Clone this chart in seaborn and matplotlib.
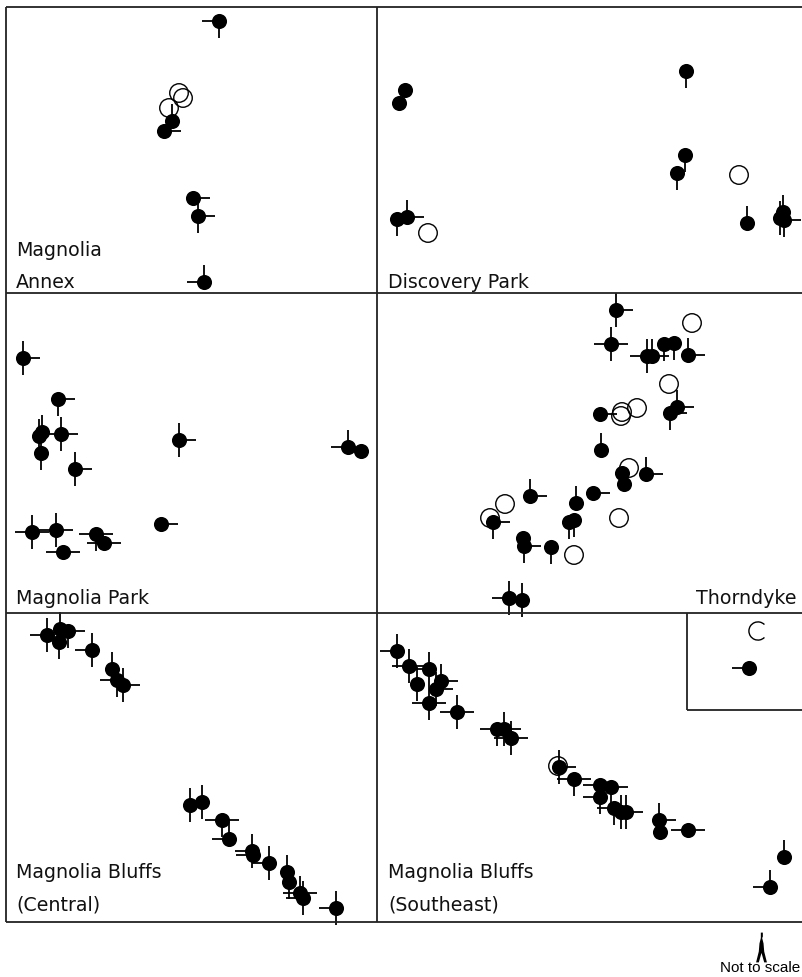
import matplotlib
matplotlib.use("Agg")
import matplotlib.pyplot as plt
import pandas as pd
import seaborn as sns
from matplotlib.path import Path

# map position in px, then which whiskers the symbol has (Up Down Left Right)
annex = [(219, 21, "LD"), (172, 121, "U"), (164, 131, "R"), (193, 198, "R"),
         (198, 216, "UDR"), (204, 282, "UL")]
annex_open = [(179, 93), (183, 98), (169, 108)]

discovery = [(686, 71, "D"), (405, 90, ""), (399, 103, ""), (685, 155, "D"),
             (677, 173, "D"), (747, 223, "U"), (780, 218, "UD"), (783, 212, "U"),
             (784, 220, "RD"), (397, 219, "D"), (407, 217, "UR")]
discovery_open = [(739, 175), (428, 233)]

park = [(23, 358, "UDR"), (58, 399, "DR"), (39, 436, "UD"), (42, 432, "U"),
        (61, 434, "UDLR"), (41, 453, "UD"), (75, 469, "UDR"), (179, 440, "UDR"),
        (348, 447, "UL"), (361, 451, ""), (161, 524, "R"), (32, 532, "UDLR"),
        (56, 530, "UDLR"), (63, 552, "LR"), (96, 534, "LRD"), (104, 543, "LR")]

thorndyke = [(616, 310, "UDR"), (611, 344, "UDLR"), (647, 356, "UDL"), (652, 356, "UR"),
             (664, 344, "D"), (674, 343, "D"), (688, 355, "UR"), (677, 407, "UR"),
             (670, 413, "DR"), (600, 414, "R"), (601, 450, "U"), (646, 474, "UR"),
             (622, 473, ""), (624, 484, ""), (593, 493, "R"), (530, 496, "UR"),
             (576, 503, "U"), (569, 522, "D"), (574, 520, "D"), (493, 522, "DR"),
             (523, 538, ""), (524, 546, "DR"), (551, 547, "D"), (509, 598, "UDL"),
             (522, 600, "UD"), (749, 668, "L")]
thorndyke_open = [(692, 323), (669, 384), (637, 408), (622, 412), (621, 416), (629, 468),
                  (505, 504), (490, 518), (619, 518), (574, 555)]
inset_open = [(758, 631)]

central = [(47, 635, "UDL"), (60, 629, "U"), (59, 642, "D"), (68, 631, "RD"),
           (92, 650, "UDL"), (112, 669, "U"), (117, 680, "DL"), (123, 685, "UDR"),
           (190, 805, "UD"), (202, 802, "UD"), (222, 820, "LRD"), (229, 839, "LU"),
           (252, 851, "LUD"), (253, 855, "L"), (269, 863, "LUD"), (287, 872, "U"),
           (289, 882, "D"), (300, 893, "LRU"), (303, 898, "LUD"), (336, 908, "LUD")]

southeast = [(397, 651, "UDL"), (409, 666, "UDLR"), (429, 669, "UDL"), (417, 684, "UD"),
             (441, 681, "UR"), (436, 689, "RDU"), (429, 703, "UDLR"), (457, 712, "UDLR"),
             (497, 729, "LD"), (504, 729, "RDU"), (511, 738, "UDLR"), (559, 767, "UDR"),
             (574, 779, "LRD"), (600, 785, "L"), (611, 787, "RD"), (600, 797, "LD"),
             (614, 808, "LD"), (621, 812, "UD"), (626, 812, "UDR"), (659, 820, "UR"),
             (660, 832, ""), (688, 830, "LR"), (784, 857, "U"), (770, 887, "UL")]
southeast_open = [(558, 766)]

labels = [("Magnolia", 16, 251), ("Annex", 16, 283), ("Discovery Park", 388, 283),
          ("Magnolia Park", 16, 598), ("Thorndyke", 696, 598),
          ("Magnolia Bluffs", 16, 873), ("(Central)", 16, 905),
          ("Magnolia Bluffs", 388, 873), ("(Southeast)", 388, 905)]

solid = pd.DataFrame(annex + discovery + park + thorndyke + central + southeast,
                     columns=["x", "y", "ticks"])
hollow = pd.DataFrame(annex_open + discovery_open + thorndyke_open + southeast_open,
                      columns=["x", "y"])
hollow_cut = pd.DataFrame(inset_open, columns=["x", "y"])

sns.set_style("white")
plt.rcParams["font.family"] = ["DejaVu Sans"]

fig = plt.figure(figsize=(8.03, 9.77), dpi=100)
ax = fig.add_axes([0, 0, 1, 1])

TICK = 17
for axis, sign, key in [("v", -1, "U"), ("v", 1, "D"), ("h", -1, "L"), ("h", 1, "R")]:
    sub = solid[solid["ticks"].str.contains(key)]
    if axis == "v":
        ax.vlines(sub["x"], sub["y"], sub["y"] + sign * TICK, color="black", lw=1.3)
    else:
        ax.hlines(sub["y"], sub["x"], sub["x"] + sign * TICK, color="black", lw=1.3)

sns.scatterplot(data=solid, x="x", y="y", ax=ax, color="black", s=118, marker="o",
                linewidth=0, legend=False, zorder=3)
sns.scatterplot(data=hollow, x="x", y="y", ax=ax, s=178, marker="o", facecolors="none",
                edgecolors="black", linewidth=1.0, legend=False, zorder=4)
# the circle in the inset is broken on its right side in the original
ax.scatter(hollow_cut["x"], hollow_cut["y"], marker=Path.arc(45, 315), s=178, facecolors="none",
           edgecolors="black", linewidth=1.0, zorder=4)

# panel frame and the inset box
ax.hlines([7, 293, 613, 922], 6, 803, color="#222222", lw=1.3)
ax.vlines([6, 377], 7, 922, color="#222222", lw=1.3)
ax.vlines(687, 613, 710, color="#222222", lw=1.3)
ax.hlines(710, 687, 803, color="#222222", lw=1.3)

for text, x, y in labels:
    ax.text(x, y, text, fontsize=13.7, color="#111111", ha="left", va="center")

# little walking figure over the scale note
walker = Path([(-0.5, 11), (1, 11), (1, 8), (0.5, 7), (1.5, 3), (2, -3), (4, -11), (2, -11), (0, -4),
               (-2, -11), (-4, -11), (-2, -3), (-1.5, 3), (-0.5, 7), (-0.5, 11)], closed=True)
ax.scatter([761], [947], marker=walker, s=460, color="black", linewidth=0, zorder=3)
ax.text(760, 968, "Not to scale", fontsize=11, family=["Liberation Sans"], ha="center", va="center",
        color="black")

ax.set_xlim(0, 803)
ax.set_ylim(977, 0)
ax.set_xlabel("")
ax.set_ylabel("")
ax.axis("off")
fig.savefig("out.png", dpi=100, facecolor="white")
